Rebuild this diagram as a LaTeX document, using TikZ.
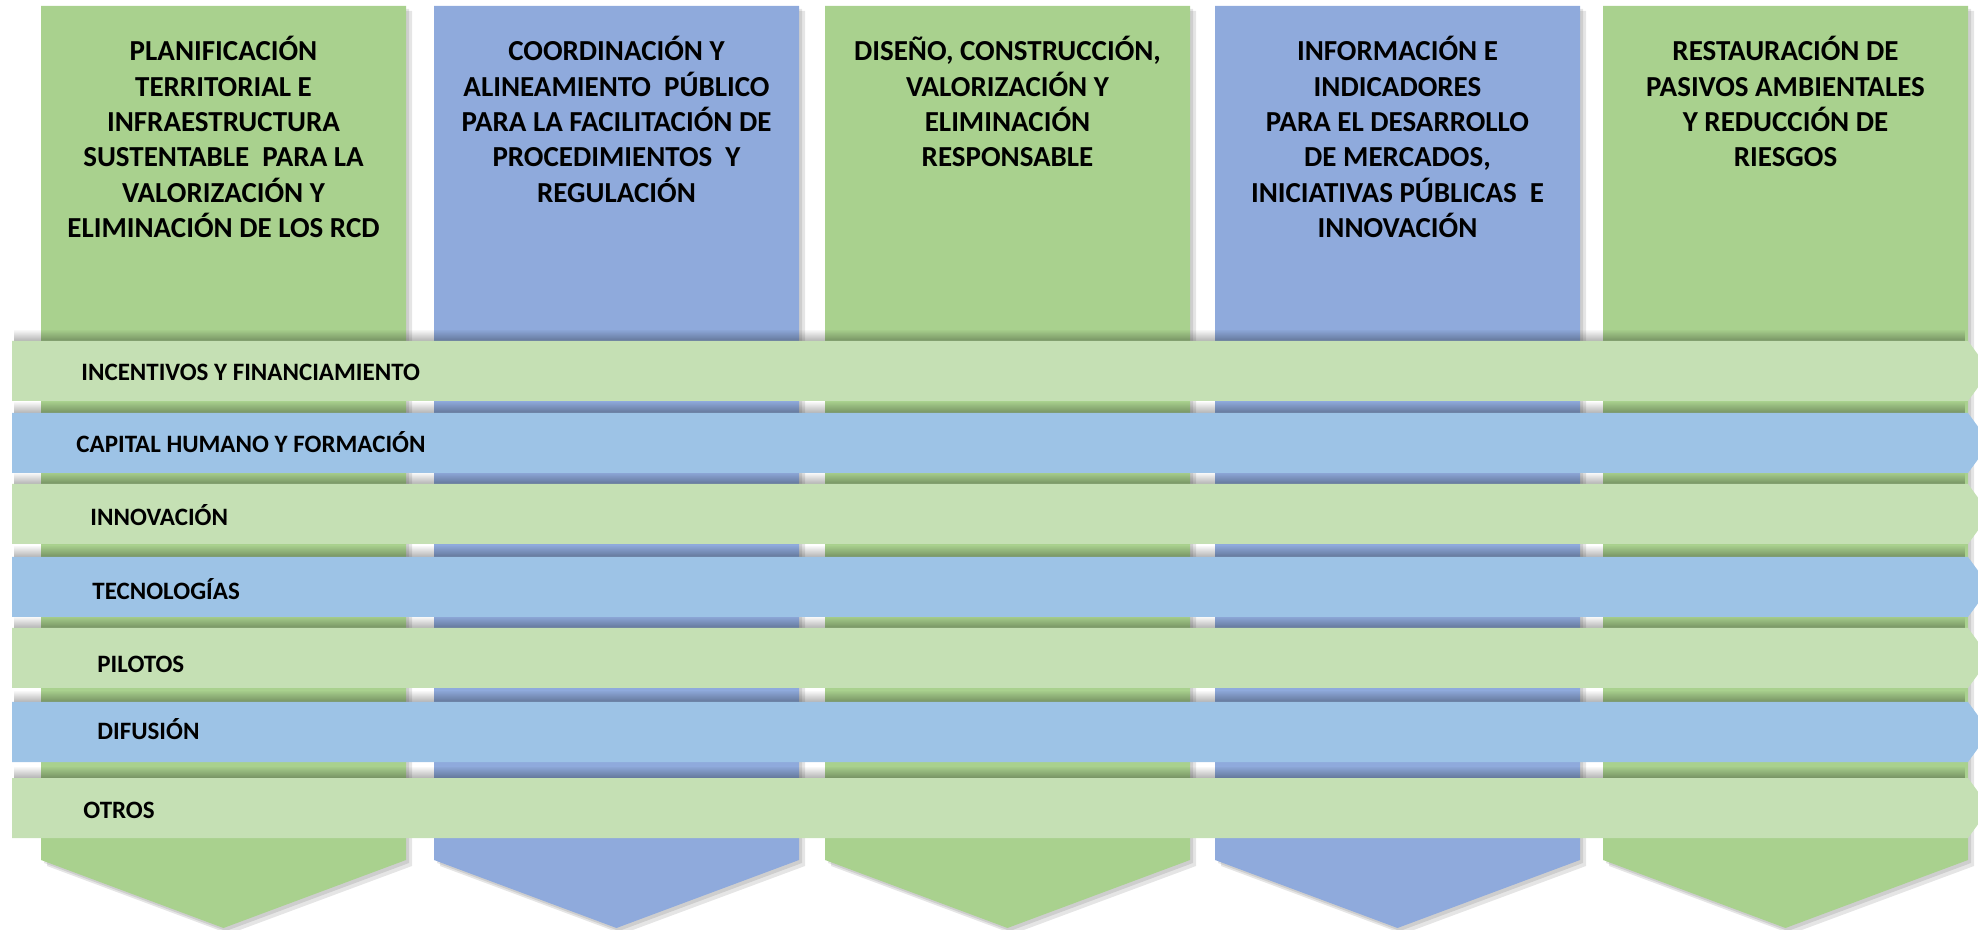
\documentclass[tikz,border=0pt]{standalone}
\usepackage{fontspec}
\setmainfont{Carlito}
\usetikzlibrary{fadings}
\definecolor{colgreen}{HTML}{A9D18E}
\definecolor{colblue}{HTML}{8FAADC}
\definecolor{rowgreen}{HTML}{C5E0B4}
\definecolor{rowblue}{HTML}{9DC3E6}

\begin{document}
\begin{tikzpicture}[x=0.5pt,y=-0.5pt,line join=round,
  head/.style={font=\bfseries\fontsize{14.5}{17.7}\selectfont,align=center,anchor=north,inner sep=0pt},
  lab/.style={font=\bfseries\fontsize{12.5}{14}\selectfont,anchor=base west,inner sep=0pt}]
  \useasboundingbox (0,0) rectangle (1978,930);
  \clip (0,0) rectangle (1978,930);
  \foreach \x in {41,434,825,1215,1603} {
    \fill[black,opacity=0.10] (\x+3,9) -- (\x+368,9) -- (\x+368,863) -- (\x+185,931) -- (\x+3,863) -- cycle;
    \fill[black,opacity=0.10] (\x+6,11) -- (\x+371,11) -- (\x+371,866) -- (\x+188,934) -- (\x+6,866) -- cycle;
  }
  \foreach \x/\c in {41/colgreen,434/colblue,825/colgreen,1215/colblue,1603/colgreen} {
    \fill[\c] (\x,6) -- (\x+365,6) -- (\x+365,860) -- (\x+182.5,928) -- (\x,860) -- cycle;
  }
  \foreach \y in {341,413,484,557,628,702,778} {
    \fill[black,opacity=0.3,path fading=north] (14,\y-12) rectangle (1966,\y);
  }
  \foreach \y/\c in {341/rowgreen,413/rowblue,484/rowgreen,557/rowblue,628/rowgreen,702/rowblue,778/rowgreen} {
    \fill[\c] (12,\y) -- (1968,\y) -- (1990,\y+30) -- (1968,\y+60) -- (12,\y+60) -- cycle;
  }
  \node[head] (h1) at (223.5,36) {PLANIFICACIÓN\\TERRITORIAL E\\INFRAESTRUCTURA\\SUSTENTABLE\ \ PARA LA\\VALORIZACIÓN Y\\ELIMINACIÓN DE LOS RCD};
  \node[head] (h2) at (616.5,36) {COORDINACIÓN Y\\ALINEAMIENTO\ \ PÚBLICO\\PARA LA FACILITACIÓN DE\\PROCEDIMIENTOS\ \ Y\\REGULACIÓN};
  \node[head] (h3) at (1007.5,36) {DISEÑO, CONSTRUCCIÓN,\\VALORIZACIÓN Y\\ELIMINACIÓN\\RESPONSABLE};
  \node[head] (h4) at (1397.5,36) {INFORMACIÓN E\\INDICADORES\\PARA EL DESARROLLO\\DE MERCADOS,\\INICIATIVAS PÚBLICAS\ \ E\\INNOVACIÓN};
  \node[head] (h5) at (1785.5,36) {RESTAURACIÓN DE\\PASIVOS AMBIENTALES\\Y REDUCCIÓN DE\\RIESGOS};
  \node[lab] (r1) at (81,381) {INCENTIVOS Y FINANCIAMIENTO};
  \node[lab] (r2) at (76,453) {CAPITAL HUMANO Y FORMACIÓN};
  \node[lab] (r3) at (90,526) {INNOVACIÓN};
  \node[lab] (r4) at (92,600) {TECNOLOGÍAS};
  \node[lab] (r5) at (97,673) {PILOTOS};
  \node[lab] (r6) at (97,740) {DIFUSIÓN};
  \node[lab] (r7) at (83,819) {OTROS};
\end{tikzpicture}
\end{document}
